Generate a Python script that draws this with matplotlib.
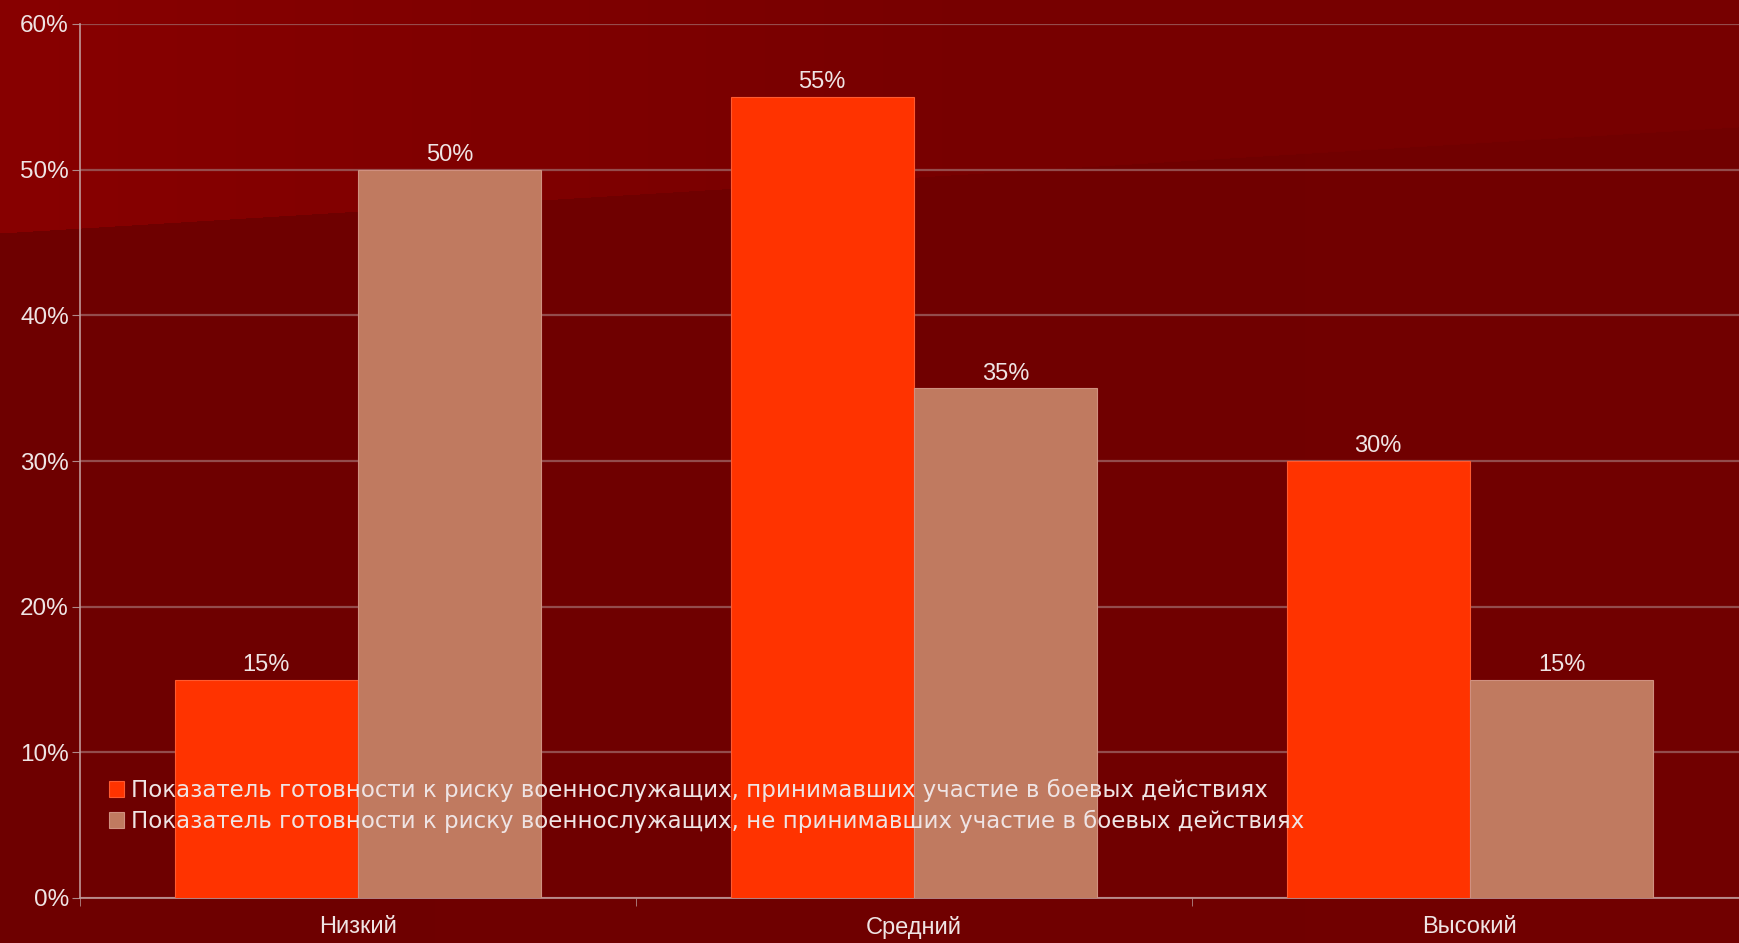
import numpy as np
import matplotlib
matplotlib.use('Agg')
import matplotlib.pyplot as plt
import matplotlib.ticker as ticker

# ── данные ──────────────────────────────────────────
categories = ['Низкий', 'Средний', 'Высокий']
combat = [15, 55, 30]        # принимавшие участие в боевых действиях
no_combat = [50, 35, 15]     # не принимавшие участие
series_names = [
    'Показатель готовности к риску военнослужащих, принимавших участие в боевых действиях',
    'Показатель готовности к риску военнослужащих, не принимавших участие в боевых действиях',
]
y_ticks = [0, 10, 20, 30, 40, 50, 60]

# ── стиль ───────────────────────────────────────────
plt.rcParams['font.family'] = ['Liberation Sans', 'DejaVu Sans']
TEXT = '#efe4e4'
GRID = '#9a5a5a'
C1 = '#ff3300'
C2 = '#c07a60'

W, H, DPI = 1739, 943, 100
fig = plt.figure(figsize=(W / DPI, H / DPI), dpi=DPI)

# фон: тёмно-красный с более светлым клином сверху слева
bg = fig.add_axes([0, 0, 1, 1], zorder=-10)
yy, xx = np.mgrid[0:H, 0:W]
edge = 233 - 0.061 * xx
top = 0x88 - (0x88 - 0x77) * np.clip(xx / 1000.0, 0, 1)
bot = 0x6e + 4 * np.clip(xx / W, 0, 1)
red = np.where(yy < edge, top, bot)
img = np.zeros((H, W, 3))
img[..., 0] = red / 255.0
bg.imshow(img, aspect='auto', interpolation='bilinear')
bg.set_axis_off()

ax = fig.add_axes([80 / W, 45 / H, 3 * 556 / W, 874 / H])
ax.set_facecolor('none')

x = np.arange(len(categories))
bw = 0.33
b1 = ax.bar(x - bw / 2, combat, bw, color=C1, edgecolor='#ff5a30', linewidth=0.8,
            label=series_names[0], zorder=3)
b2 = ax.bar(x + bw / 2, no_combat, bw, color=C2, edgecolor='#d09080', linewidth=0.8,
            label=series_names[1], zorder=3)

for bars, vals in ((b1, combat), (b2, no_combat)):
    for r, v in zip(bars, vals):
        ax.text(r.get_x() + r.get_width() / 2, v + 0.25, f'{v}%', ha='center', va='bottom',
                color=TEXT, fontsize=17, zorder=5)

ax.set_xlim(-0.5, len(categories) - 0.5)
ax.set_ylim(0, 60)
ax.set_yticks(y_ticks)
ax.yaxis.set_major_formatter(ticker.FuncFormatter(lambda v, p: f'{v:.0f}%'))
ax.set_xticks(x)
ax.set_xticklabels(categories)
ax.set_xticks(np.arange(len(categories) + 1) - 0.5, minor=True)
ax.tick_params(axis='x', which='major', length=0, pad=13, labelsize=17, colors=TEXT)
ax.tick_params(axis='x', which='minor', length=6, color='#b08888', direction='out')
ax.tick_params(axis='y', length=6, color='#b08888', labelsize=17.5, labelcolor=TEXT, pad=2)

ax.grid(axis='y', color=GRID, linewidth=1.6, alpha=0.85, zorder=1)
for s in ('top', 'right'):
    ax.spines[s].set_visible(False)
for s in ('left', 'bottom'):
    ax.spines[s].set_color('#c09898')
    ax.spines[s].set_linewidth(1.2)

leg = ax.legend(loc='upper left', bbox_to_anchor=(0.012, 0.147), frameon=False,
                prop={'family': ['DejaVu Sans'], 'size': 16.5},
                handlelength=0.65, handleheight=0.65, handletextpad=0.3,
                labelspacing=0.35, borderaxespad=0)
for t in leg.get_texts():
    t.set_color(TEXT)
leg.set_zorder(6)

fig.savefig('out.png', dpi=DPI)
